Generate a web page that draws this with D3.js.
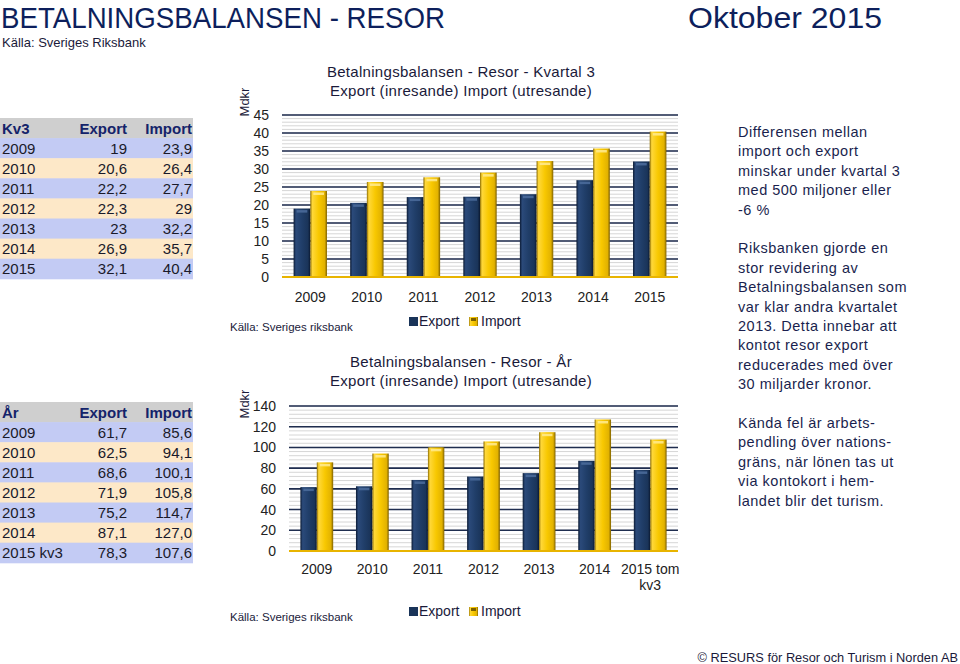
<!DOCTYPE html>
<html><head><meta charset="utf-8">
<script src="https://cdn.jsdelivr.net/npm/d3@7"></script>
<style>
html,body{margin:0;padding:0;background:#fff;}
svg{display:block;font-family:"Liberation Sans",Arial,Helvetica,sans-serif;}
</style></head>
<body>
<svg id="c" width="960" height="664"></svg>
<script>
// ---------- DATA ----------
const quarterYears = ["2009","2010","2011","2012","2013","2014","2015"];
const quarterExport = [19, 20.6, 22.2, 22.3, 23, 26.9, 32.1];
const quarterImport = [23.9, 26.4, 27.7, 29, 32.2, 35.7, 40.4];
const quarterTicks = [0,5,10,15,20,25,30,35,40,45];

const yearTableLabels = ["2009","2010","2011","2012","2013","2014","2015 kv3"];
const yearAxisLabels = [["2009"],["2010"],["2011"],["2012"],["2013"],["2014"],["2015 tom","kv3"]];
const yearExport = [61.7, 62.5, 68.6, 71.9, 75.2, 87.1, 78.3];
const yearImport = [85.6, 94.1, 100.1, 105.8, 114.7, 127.0, 107.6];
const yearTicks = [0,20,40,60,80,100,120,140];

const seriesNames = ["Export","Import"];

const noteParagraphs = [
  ["Differensen mellan","import och export","minskar under kvartal 3","med 500 miljoner eller","-6 %"],
  ["Riksbanken gjorde en","stor revidering av","Betalningsbalansen som","var klar andra kvartalet","2013. Detta innebar att","kontot resor export","reducerades med över","30 miljarder kronor."],
  ["Kända fel är arbets-","pendling över nations-","gräns, när lönen tas ut","via kontokort i hem-","landet blir det turism."]
];

// ---------- SETUP ----------
const svg = d3.select("#c");
const defs = svg.append("defs");
function grad(id, stops){
  const g = defs.append("linearGradient").attr("id", id).attr("x1","0").attr("x2","1").attr("y1","0").attr("y2","0");
  stops.forEach(s => g.append("stop").attr("offset", s[0]).attr("stop-color", s[1]));
}
grad("gExp", [["0%","#0b1a33"],["14%","#2b4a7a"],["50%","#203e69"],["86%","#1a3459"],["100%","#0a1830"]]);
grad("gImp", [["0%","#8a6a00"],["12%","#ffd83a"],["50%","#f8c800"],["86%","#e2b200"],["100%","#7d6000"]]);

// ---------- HEADER ----------
svg.append("text").attr("x",1).attr("y",28).attr("font-size",29).attr("fill","#0d1f5c")
  .attr("textLength",444).attr("lengthAdjust","spacingAndGlyphs").text("BETALNINGSBALANSEN - RESOR");
svg.append("text").attr("x",688).attr("y",28).attr("font-size",29).attr("fill","#0d1f5c")
  .attr("textLength",194).attr("lengthAdjust","spacingAndGlyphs").text("Oktober 2015");
svg.append("text").attr("x",2).attr("y",47).attr("font-size",13).attr("fill","#1a1a3a").text("Källa: Sveriges Riksbank");
svg.append("text").attr("x",958).attr("y",662).attr("text-anchor","end").attr("font-size",12.8).attr("fill","#1a1a3a")
  .text("© RESURS för Resor och Turism i Norden AB");

// ---------- TABLES ----------
function drawTable(top, headLabel, labels, exp, imp, fmt){
  const rowH = 20.1, w = 193;
  const g = svg.append("g");
  const rows = [[headLabel,"Export","Import"]].concat(labels.map((l,i)=>[l, fmt(exp[i]), fmt(imp[i])]));
  rows.forEach((r,i)=>{
    const y = top + i*rowH;
    const fill = i===0 ? "#cfcfcf" : (i%2===1 ? "#c3cbf4" : "#fde8c8");
    g.append("rect").attr("x",0).attr("y",y).attr("width",w).attr("height",rowH+0.5).attr("fill",fill);
    const bold = i===0;
    const col = bold ? "#14236a" : "#1a1a2a";
    g.append("text").attr("x",2).attr("y",y+15.5).attr("font-size",15).attr("font-weight",bold?"bold":"normal").attr("fill",col).text(r[0]);
    g.append("text").attr("x",127).attr("y",y+15.5).attr("text-anchor","end").attr("font-size",15).attr("font-weight",bold?"bold":"normal").attr("fill",col).text(r[1]);
    g.append("text").attr("x",192).attr("y",y+15.5).attr("text-anchor","end").attr("font-size",15).attr("font-weight",bold?"bold":"normal").attr("fill",col).text(r[2]);
  });
}
drawTable(118, "Kv3", quarterYears, quarterExport, quarterImport, v => String(v).replace(".", ","));
drawTable(402, "År", yearTableLabels, yearExport, yearImport, v => v.toFixed(1).replace(".", ","));

// ---------- CHARTS ----------
function drawChart(o){
  const g = svg.append("g");
  const y = d3.scaleLinear().domain([0, o.max]).range([o.y0, o.y1]);
  const x = d3.scaleBand().domain(d3.range(o.labels.length)).range([o.x0, o.x1]).paddingInner(0.41).paddingOuter(0.205);
  const xs = d3.scaleBand().domain(seriesNames).range([0, x.bandwidth()]);

  o.titles.forEach((t,i)=>{
    g.append("text").attr("x",o.titleX).attr("y",o.titleY + i*19).attr("text-anchor","middle")
      .attr("font-size",15).attr("letter-spacing",0.3).attr("fill","#1a1a3a").text(t);
  });
  g.append("g").selectAll("line").data(d3.range(0, o.max + 0.001, o.minor)).join("line")
    .attr("x1",o.x0).attr("x2",o.x1).attr("y1",d=>y(d)).attr("y2",d=>y(d))
    .attr("stroke","#d6d6d6").attr("stroke-width",1);
  g.append("g").selectAll("line").data(o.ticks.filter(d=>d>0)).join("line")
    .attr("x1",o.x0).attr("x2",o.x1).attr("y1",d=>y(d)).attr("y2",d=>y(d))
    .attr("stroke","#1f2d4f").attr("stroke-width",1.6);
  const ax = g.append("g").attr("transform",`translate(${o.x0},0)`)
    .call(d3.axisLeft(y).tickValues(o.ticks).tickSize(0).tickPadding(o.tickPad));
  ax.select(".domain").remove();
  ax.selectAll("text").attr("font-size",14).attr("fill","#222").attr("font-family","Liberation Sans, Arial, sans-serif");
  g.append("text").attr("transform",`translate(${o.mdkrX},${o.mdkrY}) rotate(-90)`).attr("text-anchor","middle")
    .attr("font-size",13).attr("fill","#1a1a3a").text("Mdkr");
  const series = [o.exp, o.imp];
  seriesNames.forEach((s,si)=>{
    const bg = g.append("g");
    bg.selectAll("rect.bar").data(series[si]).join("rect").attr("class","bar")
      .attr("x",(d,i)=>x(i)+xs(s)).attr("width",xs.bandwidth())
      .attr("y",d=>y(d)).attr("height",d=>y(0)-y(d))
      .attr("fill", si===0 ? "url(#gExp)" : "url(#gImp)");
    bg.selectAll("rect.hl").data(series[si]).join("rect").attr("class","hl")
      .attr("x",(d,i)=>x(i)+xs(s)+3).attr("width",xs.bandwidth()-6)
      .attr("y",d=>y(d)+1.5).attr("height",2.5)
      .attr("fill", si===0 ? "#4a6a9a" : "#ffe98a").attr("opacity",0.9);
  });
  g.append("line").attr("x1",o.x0).attr("x2",o.x1).attr("y1",y(0)).attr("y2",y(0))
    .attr("stroke","#e8b400").attr("stroke-width",2);
  o.labels.forEach((lab,i)=>{
    const lines = Array.isArray(lab) ? lab : [lab];
    lines.forEach((t,j)=>{
      g.append("text").attr("x",x(i)+x.bandwidth()/2).attr("y",o.xLabY + j*16).attr("text-anchor","middle")
        .attr("font-size",14).attr("fill","#222").text(t);
    });
  });
  const lg = g.append("g").attr("transform",`translate(${o.legX},${o.legY})`);
  lg.append("rect").attr("x",0).attr("y",-9).attr("width",9).attr("height",9).attr("fill","#1a3459");
  lg.append("text").attr("x",10).attr("y",0).attr("font-size",14).attr("fill","#1a1a3a").text(seriesNames[0]);
  lg.append("rect").attr("x",60).attr("y",-9).attr("width",9).attr("height",9).attr("fill","url(#gImp)");
  lg.append("rect").attr("x",62).attr("y",-8).attr("width",5).attr("height",3).attr("fill","#7d6000");
  lg.append("text").attr("x",72).attr("y",0).attr("font-size",14).attr("fill","#1a1a3a").text(seriesNames[1]);
  g.append("text").attr("x",230).attr("y",o.srcY).attr("font-size",11.5).attr("fill","#1a1a3a").text("Källa: Sveriges riksbank");
}

drawChart({
  x0:282, x1:678, y0:277, y1:115, max:45, minor:1, ticks:quarterTicks,
  labels:quarterYears, exp:quarterExport, imp:quarterImport,
  titles:["Betalningsbalansen - Resor - Kvartal 3","Export (inresande) Import (utresande)"],
  titleX:461, titleY:77, tickPad:13, mdkrX:249, mdkrY:102, xLabY:302,
  legX:409, legY:326, srcY:331
});
drawChart({
  x0:289, x1:678, y0:551, y1:406, max:140, minor:4, ticks:yearTicks,
  labels:yearAxisLabels, exp:yearExport, imp:yearImport,
  titles:["Betalningsbalansen - Resor - År","Export (inresande) Import (utresande)"],
  titleX:461, titleY:367, tickPad:13, mdkrX:249, mdkrY:404, xLabY:574,
  legX:409, legY:616, srcY:621
});

// ---------- NOTES ----------
const notes = svg.append("g");
let ny = 137;
noteParagraphs.forEach(p=>{
  p.forEach(line=>{
    notes.append("text").attr("x",738).attr("y",ny).attr("font-size",14.5).attr("letter-spacing",0.5).attr("fill","#1a1f4e").text(line);
    ny += 19.4;
  });
  ny += 19.4;
});
</script>
</body></html>
